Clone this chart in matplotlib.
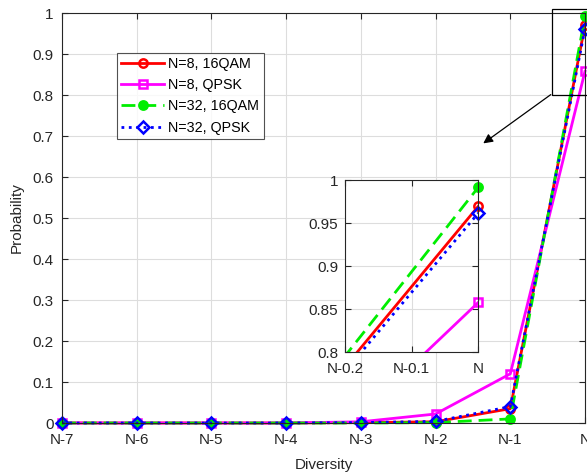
import numpy as np
import matplotlib
matplotlib.use('Agg')
import matplotlib.pyplot as plt
from matplotlib.patches import Rectangle, FancyArrowPatch

plt.rcParams['font.family'] = ['Liberation Sans', 'DejaVu Sans']

# data
x_labels = ['N-7', 'N-6', 'N-5', 'N-4', 'N-3', 'N-2', 'N-1', 'N']
x = np.arange(len(x_labels))
p_n8_16qam = [0, 0, 0, 0, 0.001, 0.003, 0.035, 0.970]
p_n8_qpsk = [0, 0, 0, 0, 0.003, 0.022, 0.120, 0.858]
p_n32_16qam = [0, 0, 0, 0, 0, 0.001, 0.010, 0.992]
p_n32_qpsk = [0, 0, 0, 0, 0.001, 0.004, 0.040, 0.962]
inset_labels = ['N-0.2', 'N-0.1', 'N']

series = [
    (p_n8_16qam, 'N=8, 16QAM', dict(color='red', ls='-', marker='o', mfc='none')),
    (p_n8_qpsk, 'N=8, QPSK', dict(color='magenta', ls='-', marker='s', mfc='none')),
    (p_n32_16qam, 'N=32, 16QAM', dict(color='#00ee00', ls=(0, (5, 2.5)), marker='o', mfc='#00ee00')),
    (p_n32_qpsk, 'N=32, QPSK', dict(color='blue', ls=':', marker='D', mfc='none')),
]

axc = '#262626'
fig = plt.figure(figsize=(5.87, 4.72), dpi=100)
ax = fig.add_axes([0.1056, 0.1038, 0.891, 0.8686])


def style(a, fs=11, xpad=6, ypad=5):
    a.grid(True, color='#dddddd', lw=0.8)
    a.set_axisbelow(True)
    a.tick_params(direction='in', top=True, right=True, labelsize=fs,
                  colors=axc, length=4)
    a.tick_params(axis='x', pad=xpad)
    a.tick_params(axis='y', pad=ypad)
    for s in a.spines.values():
        s.set_color(axc)
        s.set_linewidth(0.8)


for y, lab, kw in series:
    ax.plot(x, y, lw=2, ms=6, mew=1.8, label=lab, clip_on=False, **kw)

ax.set_xlim(0, 7)
ax.set_ylim(0, 1)
ax.set_xticks(x)
ax.set_xticklabels(x_labels)
ax.set_yticks(np.arange(0, 1.01, 0.1))
ax.set_yticklabels(['0'] + ['%.1f' % v for v in np.arange(0.1, 0.95, 0.1)] + ['1'])
style(ax, xpad=7, ypad=6)
ax.set_xlabel('Diversity', fontsize=11, color=axc, labelpad=8)
ax.set_ylabel('Probability', fontsize=11, color=axc, labelpad=6)

leg = ax.legend(loc='upper left', bbox_to_anchor=(0.105, 0.903), fontsize=10.3,
                frameon=True, fancybox=False, edgecolor='#262626',
                handlelength=3.0, borderpad=0.3, labelspacing=0.5,
                handletextpad=0.3, borderaxespad=0)
leg.get_frame().set_linewidth(0.8)

# zoom box on main axes
ax.add_patch(Rectangle((6.56, 0.8), 0.5, 0.21, fill=False, ec='black',
                       lw=0.9, clip_on=False, zorder=5))

# inset
axi = fig.add_axes([0.588, 0.254, 0.227, 0.364])
for y, lab, kw in series:
    line_kw = {k: v for k, v in kw.items() if k != 'marker'}
    axi.plot(x, y, lw=2, **line_kw)
    axi.plot(x[-1:], y[-1:], lw=0, ms=6, mew=1.8, clip_on=False,
             marker=kw['marker'], color=kw['color'], mfc=kw['mfc'])
axi.set_xlim(6.8, 7)
axi.set_ylim(0.8, 1)
axi.set_xticks([6.8, 6.9, 7])
axi.set_xticklabels(inset_labels)
axi.set_yticks([0.8, 0.85, 0.9, 0.95, 1])
axi.set_yticklabels(['0.8', '0.85', '0.9', '0.95', '1'])
style(axi, xpad=7, ypad=5)

# arrow from zoom box to inset
fig.patches.append(FancyArrowPatch(
    (553 / 587, 1 - 93 / 472), (481 / 587, 1 - 145 / 472),
    transform=fig.transFigure, arrowstyle='-|>', mutation_scale=14,
    color='black', lw=0.9))

fig.savefig('out.png', dpi=100)
